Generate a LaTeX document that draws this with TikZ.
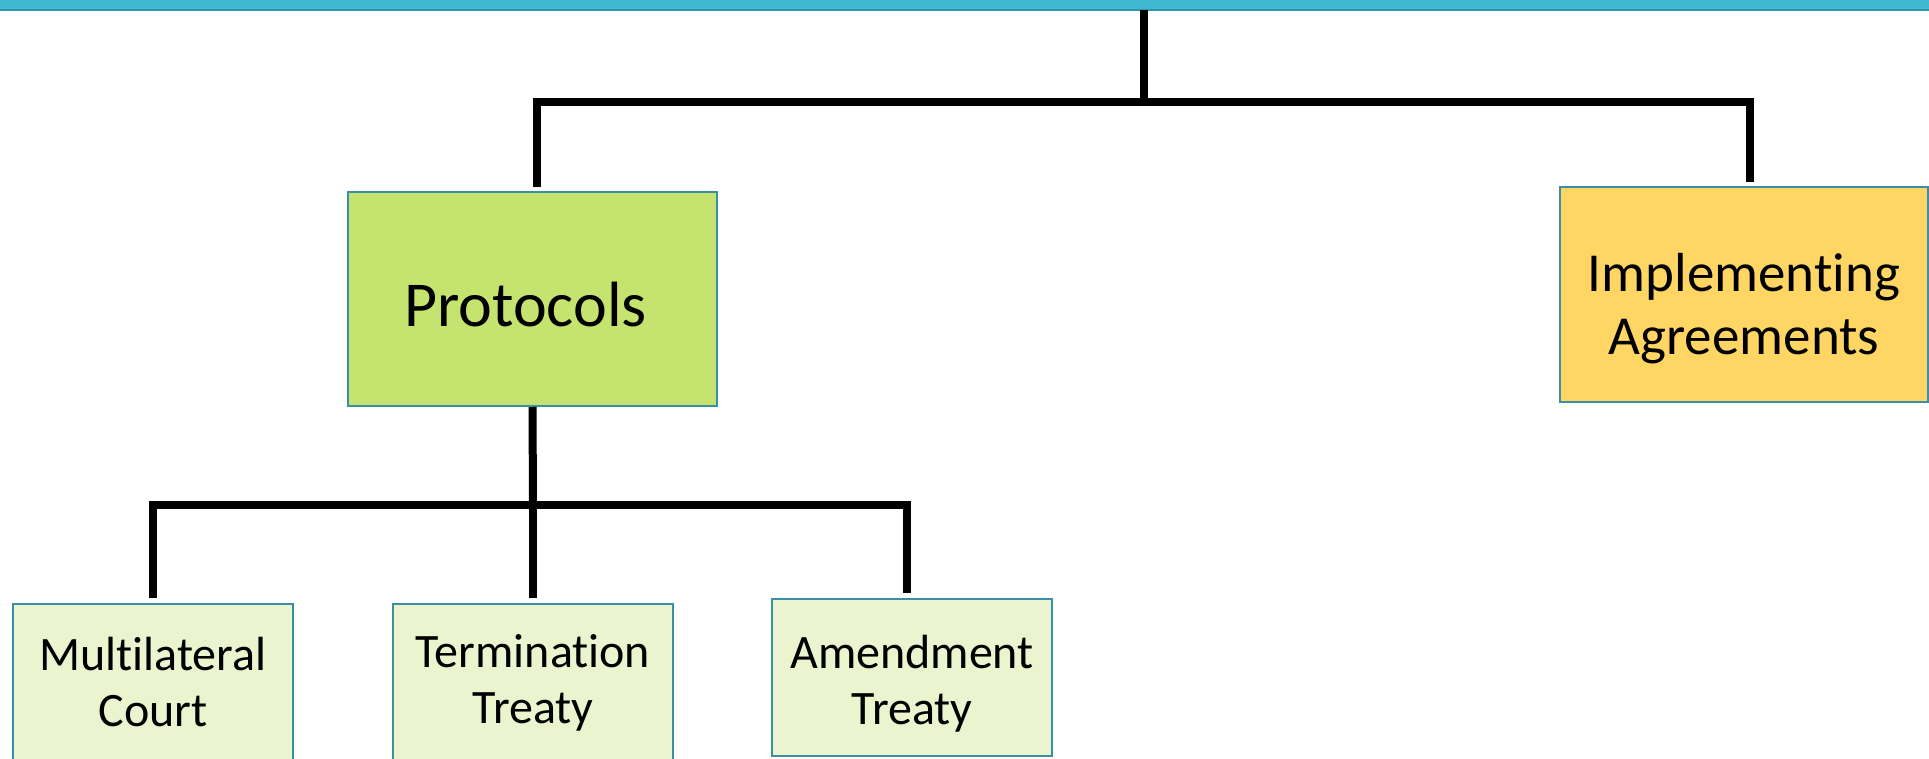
\documentclass[tikz,border=0pt]{standalone}
\usepackage{fontspec}
\setmainfont{Carlito}[Ligatures=CommonOff]
\definecolor{barfill}{RGB}{65,184,210}
\definecolor{baredge}{RGB}{50,148,168}
\definecolor{boxedge}{RGB}{58,142,165}
\definecolor{protfill}{RGB}{197,228,111}
\definecolor{implfill}{RGB}{255,214,100}
\definecolor{leaffill}{RGB}{234,244,207}
\tikzset{
  conn/.style={line width=8pt, black},
  boxbase/.style={draw=boxedge, line width=2pt, inner sep=0pt, align=center,
    minimum width=280pt, minimum height=157pt, font=\fontsize{48}{56}\selectfont},
  leafbox/.style={boxbase, fill=leaffill},
  protbox/.style={boxbase, fill=protfill, minimum width=369pt, minimum height=214pt,
    font=\fontsize{64}{76}\selectfont},
  implbox/.style={boxbase, fill=implfill, minimum width=368pt, minimum height=215pt,
    font=\fontsize{55}{63}\selectfont},
  topbar/.style={fill=barfill, draw=none, inner sep=0pt, minimum width=1929pt, minimum height=10pt}
}
\begin{document}
\begin{tikzpicture}[x=1pt,y=-1pt]
\useasboundingbox (0,0) rectangle (1929,759);
\node[topbar] (bar) at (964.5,5) {};
\draw[baredge, line width=2pt] (bar.south west) -- (bar.south east);
\node[protbox] (prot) at (532.5,299) {\hspace*{-14pt}\rule{0pt}{56pt}Protocols};
\node[implbox] (impl) at (1744,294.5) {\rule{0pt}{66pt}Implementing\\Agreements};
\node[leafbox] (mult) at (153,682.5) {Multilateral\\Court};
\node[leafbox] (term) at (533,682.5) {Termination\\Treaty};
\node[leafbox] (amend) at (912,677.5) {\rule{0pt}{46pt}Amendment\\Treaty};
\coordinate (j1) at (1144,102);
\coordinate (j2) at (533,505);
\draw[conn] (bar.south -| j1) -- (j1);
\draw[conn] ([xshift=4.5pt,yshift=4pt]prot.north) |- (j1) -| ([xshift=6pt,yshift=4pt]impl.north);
\draw[conn] (prot.south) -- (j2);
\draw[conn] ([yshift=5pt]mult.north) |- (j2) -| ([xshift=-5pt,yshift=5pt]amend.north);
\draw[conn] (j2) -- ([yshift=5pt]term.north);
\end{tikzpicture}
\end{document}
